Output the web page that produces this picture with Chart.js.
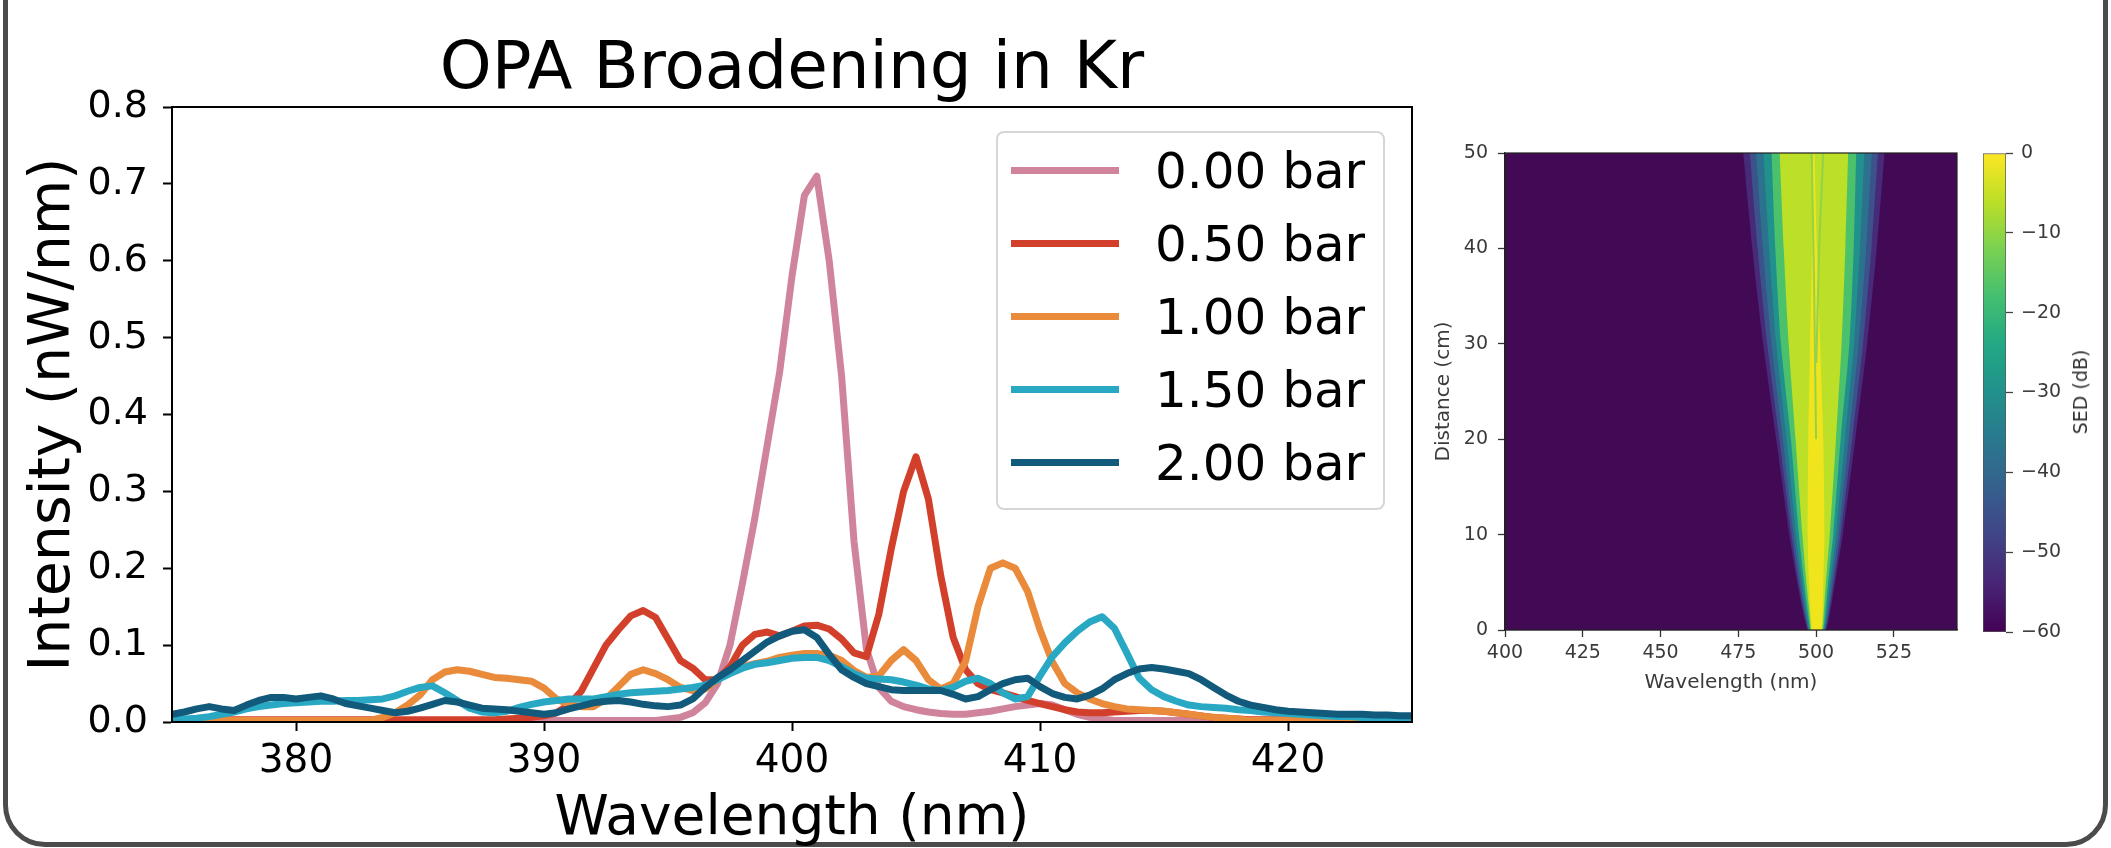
<!DOCTYPE html>
<html>
<head>
<meta charset="utf-8">
<script src="https://cdn.jsdelivr.net/npm/chart.js@4.4.1/dist/chart.umd.min.js"></script>
<style>
  html, body { margin: 0; padding: 0; background: #fff; }
  body { width: 2111px; height: 848px; position: relative; overflow: hidden; font-family: "DejaVu Sans", sans-serif; }
  .frame { position: absolute; left: 3px; top: -100px; width: 2105px; height: 947px; box-sizing: border-box; border: 5px solid #4b4b4b; border-radius: 42px; }
  canvas { position: absolute; }
  #spectra { left: 0; top: 0; }
  #heat { left: 1420px; top: 100px; }
  #cbar { left: 1960px; top: 100px; }
  .legend { position: absolute; left: 996px; top: 131px; width: 389px; height: 379px; box-sizing: border-box; border: 2px solid #d6d6d6; border-radius: 8px; background: rgba(255, 255, 255, 0.8); padding-top: 1px; }
  .legend .row { height: 73px; display: flex; align-items: center; }
  .legend .swatch { margin-left: 13px; width: 108px; height: 7px; }
  .legend .label { margin-left: 36px; font-size: 50px; line-height: 1; color: #000; white-space: nowrap; }
  .cbar-title { position: absolute; left: 2080px; top: 392px; transform: translate(-50%, -50%) rotate(-90deg); font-size: 19px; color: #333; white-space: nowrap; }
</style>
</head>
<body>
<div class="frame"></div>
<canvas id="spectra" width="1440" height="848"></canvas>
<div class="legend" id="legend"></div>
<canvas id="heat" width="550" height="620"></canvas>
<canvas id="cbar" width="150" height="620"></canvas>
<div class="cbar-title">SED (dB)</div>
<script>
const wavelengths = [
  375, 375.5, 376, 376.5, 377, 377.5, 378, 378.5, 379, 379.5,
  380, 380.5, 381, 381.5, 382, 382.5, 383, 383.5, 384, 384.5,
  385, 385.5, 386, 386.5, 387, 387.5, 388, 388.5, 389, 389.5,
  390, 390.5, 391, 391.5, 392, 392.5, 393, 393.5, 394, 394.5,
  395, 395.5, 396, 396.5, 397, 397.5, 398, 398.5, 399, 399.5,
  400, 400.5, 401, 401.5, 402, 402.5, 403, 403.5, 404, 404.5,
  405, 405.5, 406, 406.5, 407, 407.5, 408, 408.5, 409, 409.5,
  410, 410.5, 411, 411.5, 412, 412.5, 413, 413.5, 414, 414.5,
  415, 415.5, 416, 416.5, 417, 417.5, 418, 418.5, 419, 419.5,
  420, 420.5, 421, 421.5, 422, 422.5, 423, 423.5, 424, 424.5,
  425
]

const pressures = ["0.00 bar", "0.50 bar", "1.00 bar", "1.50 bar", "2.00 bar"]
const lineColors = ["#d0849b", "#d2402b", "#ea8a3b", "#29a8c4", "#115a7b"]

const bar000 = [
  0.002, 0.002, 0.002, 0.002, 0.002, 0.002, 0.002, 0.002, 0.002, 0.002,
  0.002, 0.002, 0.002, 0.002, 0.002, 0.002, 0.002, 0.002, 0.002, 0.002,
  0.002, 0.002, 0.002, 0.002, 0.002, 0.002, 0.002, 0.002, 0.002, 0.002,
  0.002, 0.002, 0.002, 0.002, 0.002, 0.002, 0.002, 0.002, 0.002, 0.002,
  0.004, 0.006, 0.012, 0.025, 0.05, 0.1, 0.18, 0.265, 0.36, 0.455,
  0.58, 0.685, 0.71, 0.6, 0.45, 0.235, 0.095, 0.045, 0.027, 0.02,
  0.016, 0.013, 0.011, 0.01, 0.01, 0.012, 0.014, 0.017, 0.02, 0.022,
  0.024, 0.022, 0.016, 0.01, 0.006, 0.004, 0.002, 0.002, 0.002, 0.002,
  0.002, 0.002, 0.002, 0.002, 0.002, 0.002, 0.002, 0.002, 0.002, 0.002,
  0.002, 0.002, 0.002, 0.002, 0.002, 0.002, 0.002, 0.002, 0.002, 0.002,
  0.002
]
const bar050 = [
  0.003, 0.003, 0.003, 0.003, 0.003, 0.003, 0.003, 0.003, 0.003, 0.003,
  0.003, 0.003, 0.003, 0.003, 0.003, 0.003, 0.003, 0.003, 0.003, 0.003,
  0.003, 0.003, 0.003, 0.003, 0.003, 0.003, 0.003, 0.004, 0.005, 0.006,
  0.008, 0.012, 0.022, 0.04, 0.07, 0.1, 0.12, 0.138, 0.145, 0.136,
  0.108, 0.08, 0.07, 0.055, 0.055, 0.072, 0.1, 0.114, 0.117, 0.112,
  0.118, 0.125, 0.126, 0.121, 0.108, 0.09, 0.085, 0.14, 0.225, 0.3,
  0.345, 0.29, 0.19, 0.11, 0.068, 0.05, 0.042, 0.038, 0.033, 0.028,
  0.024, 0.02, 0.016, 0.013, 0.012, 0.012, 0.013, 0.014, 0.015, 0.015,
  0.014, 0.012, 0.01, 0.008, 0.006, 0.005, 0.004, 0.003, 0.003, 0.003,
  0.003, 0.003, 0.003, 0.003, 0.003, 0.003, 0.003, 0.003, 0.003, 0.003,
  0.003
]
const bar100 = [
  0.002, 0.002, 0.002, 0.002, 0.002, 0.002, 0.002, 0.002, 0.002, 0.002,
  0.002, 0.002, 0.002, 0.002, 0.002, 0.002, 0.002, 0.006, 0.012, 0.022,
  0.035, 0.055, 0.065, 0.068, 0.066, 0.062, 0.058, 0.057, 0.055, 0.053,
  0.044, 0.03, 0.023, 0.02, 0.02, 0.03, 0.046, 0.062, 0.068, 0.063,
  0.055, 0.045, 0.041, 0.043, 0.055, 0.065, 0.072, 0.076, 0.079, 0.084,
  0.087, 0.089, 0.089, 0.087, 0.08, 0.067, 0.058, 0.06, 0.08, 0.094,
  0.08, 0.055, 0.043, 0.05, 0.079, 0.15, 0.2, 0.207, 0.2, 0.17,
  0.12, 0.078, 0.05, 0.038, 0.03, 0.024, 0.02, 0.017, 0.016, 0.015,
  0.014, 0.012, 0.01, 0.008, 0.006, 0.005, 0.004, 0.002, 0.002, 0.002,
  0.002, 0.002, 0.002, 0.002, 0.002, 0.002, 0.002, 0.002, 0.002, 0.002,
  0.002
]
const bar150 = [
  0.003, 0.004, 0.005, 0.007, 0.01, 0.013, 0.017, 0.02, 0.022, 0.024,
  0.025, 0.026, 0.027, 0.027, 0.028, 0.028, 0.029, 0.03, 0.034, 0.04,
  0.045, 0.047, 0.038, 0.028, 0.018, 0.013, 0.012, 0.014, 0.019, 0.023,
  0.026, 0.028, 0.03, 0.03, 0.03, 0.033, 0.036, 0.038, 0.039, 0.04,
  0.041, 0.043, 0.045, 0.048, 0.055, 0.063, 0.07, 0.075, 0.077, 0.08,
  0.083, 0.084, 0.084, 0.08, 0.072, 0.063, 0.057, 0.056, 0.055, 0.052,
  0.048, 0.043, 0.041, 0.045, 0.053, 0.057, 0.05, 0.038, 0.03, 0.033,
  0.06, 0.085, 0.103, 0.118, 0.13, 0.137, 0.122, 0.09, 0.057, 0.042,
  0.033, 0.027, 0.022, 0.02, 0.019, 0.018, 0.016, 0.015, 0.013, 0.012,
  0.011, 0.01, 0.009, 0.008, 0.007, 0.007, 0.006, 0.006, 0.005, 0.005,
  0.005
]
const bar200 = [
  0.01, 0.013, 0.017, 0.02, 0.017, 0.015, 0.022, 0.028, 0.032, 0.032,
  0.03, 0.032, 0.034, 0.03, 0.024, 0.021, 0.018, 0.015, 0.012, 0.014,
  0.018, 0.023, 0.028, 0.026, 0.022, 0.018, 0.017, 0.016, 0.014, 0.012,
  0.01, 0.012, 0.017, 0.021, 0.025, 0.027, 0.028, 0.026, 0.023, 0.021,
  0.02, 0.022, 0.03, 0.045, 0.058, 0.068, 0.08, 0.092, 0.104, 0.112,
  0.118, 0.12, 0.11, 0.088, 0.068, 0.058, 0.05, 0.046, 0.042, 0.041,
  0.041, 0.041, 0.041, 0.036, 0.03, 0.033, 0.042, 0.05, 0.055, 0.057,
  0.046, 0.037, 0.032, 0.03, 0.035, 0.043, 0.055, 0.063, 0.069, 0.071,
  0.069, 0.066, 0.063, 0.055, 0.045, 0.035, 0.027, 0.022, 0.019, 0.016,
  0.014, 0.013, 0.012, 0.011, 0.01, 0.01, 0.01, 0.009, 0.009, 0.008,
  0.008
]
const spectra = [bar000, bar050, bar100, bar150, bar200]

const xTicks = [380, 390, 400, 410, 420]
const yTicks = [0, 0.1, 0.2, 0.3, 0.4, 0.5, 0.6, 0.7, 0.8]

// SED map: cone edges, one half-width list per dB level
const distances = [0, 1, 3, 6, 10, 20, 30, 40, 50]
const coneCenter = [500.2, 500.2, 500.1, 500.0, 500.0, 499.9, 499.7, 499.5, 499.3]
const halfWidth55 = [3.0, 3.8, 5.0, 6.6, 8.6, 12.7, 16.7, 20.0, 22.7]
const halfWidth45 = [2.8, 3.5, 4.6, 6.1, 7.9, 11.7, 15.4, 18.3, 20.6]
const halfWidth35 = [2.6, 3.2, 4.2, 5.5, 7.2, 10.6, 14.0, 16.6, 18.6]
const halfWidth25 = [2.4, 2.9, 3.7, 4.9, 6.4, 9.4, 12.5, 14.6, 16.2]
const halfWidth15 = [2.1, 2.5, 3.2, 4.2, 5.5, 8.0, 11.0, 12.6, 13.6]
const halfWidth8 = [1.8, 2.1, 2.6, 3.4, 4.4, 6.5, 8.5, 9.9, 11.0]
const halfWidth3 = [1.6, 1.8, 2.1, 2.4, 2.7, 2.4, 1.6, 0.8, 0.2]
const bandHalfWidths = [halfWidth55, halfWidth45, halfWidth35, halfWidth25, halfWidth15, halfWidth8, halfWidth3]
const bandColors = ["#472a7a", "#3b528b", "#2c728e", "#21918c", "#4cc16c", "#bcdf27", "#f0e51d"]

const splitADist = [20, 35, 50]
const splitAWl = [500.0, 499.4, 498.6]
const splitBDist = [28, 40, 50]
const splitBWl = [500.1, 501.0, 502.3]

const heatTicksX = [400, 425, 450, 475, 500, 525]
const heatTicksY = [0, 10, 20, 30, 40, 50]
const sedTicks = [0, -10, -20, -30, -40, -50, -60]
const viridis = ["#440154", "#482475", "#414487", "#355f8d", "#2a788e", "#21918c", "#22a884", "#44bf70", "#7ad151", "#bddf26", "#fde725"]

Chart.defaults.font.family = "DejaVu Sans"
Chart.defaults.animation = false
Chart.defaults.devicePixelRatio = 1

const boxFrame = {
  id: "boxFrame",
  afterDatasetsDraw(chart, args, opts) {
    const { ctx, chartArea: a } = chart
    ctx.save()
    ctx.strokeStyle = opts.color
    ctx.lineWidth = opts.width
    ctx.strokeRect(a.left, a.top, a.right - a.left, a.bottom - a.top)
    ctx.restore()
  },
}

const areaBackground = {
  id: "areaBackground",
  beforeDatasetsDraw(chart, args, opts) {
    const { ctx, chartArea: a } = chart
    ctx.save()
    ctx.fillStyle = opts.color
    ctx.fillRect(a.left, a.top, a.right - a.left, a.bottom - a.top)
    ctx.restore()
  },
}

const fixedTicks = (values) => (scale) => {
  scale.ticks = values.map((v) => ({ value: v }))
}

// left: OPA spectra
new Chart(document.getElementById("spectra"), {
  type: "line",
  data: {
    labels: wavelengths,
    datasets: spectra.map((values, i) => ({
      label: pressures[i],
      data: values,
      borderColor: lineColors[i],
      borderWidth: 7,
      borderJoinStyle: "round",
      borderCapStyle: "round",
      pointRadius: 0,
      tension: 0,
      clip: 0,
      order: spectra.length - i,
    })),
  },
  options: {
    responsive: false,
    layout: { padding: { left: 0, right: 28, top: 0, bottom: 0 } },
    plugins: {
      legend: { display: false },
      tooltip: { enabled: false },
      title: {
        display: true,
        text: "OPA Broadening in Kr",
        color: "#000",
        fullSize: false,
        font: { size: 66, weight: "normal", lineHeight: 1 },
        padding: { top: 38, bottom: 3 },
      },
      boxFrame: { color: "#000", width: 2 },
    },
    scales: {
      x: {
        type: "linear",
        min: 375,
        max: 425,
        afterBuildTicks: fixedTicks(xTicks),
        afterFit: (s) => { s.height = 126 },
        ticks: { color: "#000", font: { size: 39 }, padding: 7, maxRotation: 0 },
        grid: { drawOnChartArea: false, tickLength: 9, tickWidth: 2, tickColor: "#000" },
        border: { color: "#000", width: 2 },
        title: { display: true, text: "Wavelength (nm)", color: "#000", font: { size: 55, lineHeight: 1 }, padding: { bottom: 1 } },
      },
      y: {
        type: "linear",
        min: 0,
        max: 0.8,
        afterBuildTicks: fixedTicks(yTicks),
        afterFit: (s) => { s.width = 172 },
        ticks: { color: "#000", font: { size: 38 }, padding: 15, callback: (v) => v.toFixed(1) },
        grid: { drawOnChartArea: false, tickLength: 9, tickWidth: 2, tickColor: "#000" },
        border: { color: "#000", width: 2 },
        title: { display: true, text: "Intensity (nW/nm)", color: "#000", font: { size: 57, lineHeight: 1 }, padding: { top: 26 } },
      },
    },
  },
  plugins: [boxFrame],
})

document.getElementById("legend").innerHTML = pressures
  .map(
    (p, i) => `
  <div class="row">
    <span class="swatch" style="background:${lineColors[i]}"></span>
    <span class="label">${p}</span>
  </div>`
  )
  .join("")

// middle: SED map drawn as nested filled bands
const edgeLine = (wl, dist) => ({
  data: dist.map((d, k) => ({ x: wl[k], y: d })),
  borderWidth: 0,
  borderColor: "rgba(0,0,0,0)",
  pointRadius: 0,
  tension: 0.25,
})

const heatDatasets = [
  { ...edgeLine(splitAWl, splitADist), borderWidth: 2, borderColor: "#93d24a", fill: false },
  { ...edgeLine(splitBWl, splitBDist), borderWidth: 2, borderColor: "#93d24a", fill: false },
]
for (let i = bandHalfWidths.length - 1; i >= 0; i--) {
  const hw = bandHalfWidths[i]
  heatDatasets.push({
    ...edgeLine(coneCenter.map((c, k) => c - hw[k]), distances),
    fill: "+1",
    backgroundColor: bandColors[i],
  })
  heatDatasets.push({
    ...edgeLine(coneCenter.map((c, k) => c + hw[k]), distances),
    fill: false,
  })
}

const heatTickFont = { size: 19 }
new Chart(document.getElementById("heat"), {
  type: "line",
  data: { datasets: heatDatasets },
  options: {
    responsive: false,
    indexAxis: "y",
    layout: { padding: { left: 0, right: 13, top: 53, bottom: 0 } },
    plugins: {
      legend: { display: false },
      tooltip: { enabled: false },
      areaBackground: { color: "#420a54" },
      boxFrame: { color: "#222", width: 1.2 },
    },
    scales: {
      x: {
        type: "linear",
        min: 400,
        max: 545.3,
        afterBuildTicks: fixedTicks(heatTicksX),
        afterFit: (s) => { s.height = 90 },
        ticks: { color: "#3a3a3a", font: heatTickFont, padding: 5, maxRotation: 0 },
        grid: { drawOnChartArea: false, tickLength: 7, tickWidth: 1.3, tickColor: "#333" },
        border: { color: "#222", width: 1.2 },
        title: { display: true, text: "Wavelength (nm)", color: "#3a3a3a", font: { size: 20, lineHeight: 1 }, padding: { bottom: 27 } },
      },
      y: {
        type: "linear",
        min: 0,
        max: 50,
        afterBuildTicks: fixedTicks(heatTicksY),
        afterFit: (s) => { s.width = 85 },
        ticks: { color: "#3a3a3a", font: heatTickFont, padding: 10 },
        grid: { drawOnChartArea: false, tickLength: 7, tickWidth: 1.3, tickColor: "#333" },
        border: { color: "#222", width: 1.2 },
        title: { display: true, text: "Distance (cm)", color: "#3a3a3a", font: { size: 20, lineHeight: 1 }, padding: { top: 14 } },
      },
    },
  },
  plugins: [areaBackground, boxFrame],
})

// right: colour bar
new Chart(document.getElementById("cbar"), {
  type: "bar",
  data: {
    labels: ["SED"],
    datasets: [
      {
        data: [[-60, 0]],
        barPercentage: 1,
        categoryPercentage: 1,
        borderWidth: 1,
        borderColor: "#555",
        borderSkipped: false,
        backgroundColor(ctx) {
          const a = ctx.chart.chartArea
          if (!a) return viridis[0]
          const g = ctx.chart.ctx.createLinearGradient(0, a.bottom, 0, a.top)
          viridis.forEach((c, i) => g.addColorStop(i / (viridis.length - 1), c))
          return g
        },
      },
    ],
  },
  options: {
    responsive: false,
    layout: { padding: { left: 23, right: 0, top: 53, bottom: 88 } },
    plugins: { legend: { display: false }, tooltip: { enabled: false } },
    scales: {
      x: { display: false },
      y: {
        position: "right",
        min: -60,
        max: 0,
        afterBuildTicks: fixedTicks(sedTicks),
        afterFit: (s) => { s.width = 104 },
        ticks: {
          color: "#3a3a3a",
          font: heatTickFont,
          padding: 8,
          callback: (v) => (v < 0 ? "\u2212" + Math.abs(v) : String(v)),
        },
        grid: { drawOnChartArea: false, tickLength: 7, tickWidth: 1.3, tickColor: "#444" },
        border: { display: false },
      },
    },
  },
})
</script>
</body>
</html>
